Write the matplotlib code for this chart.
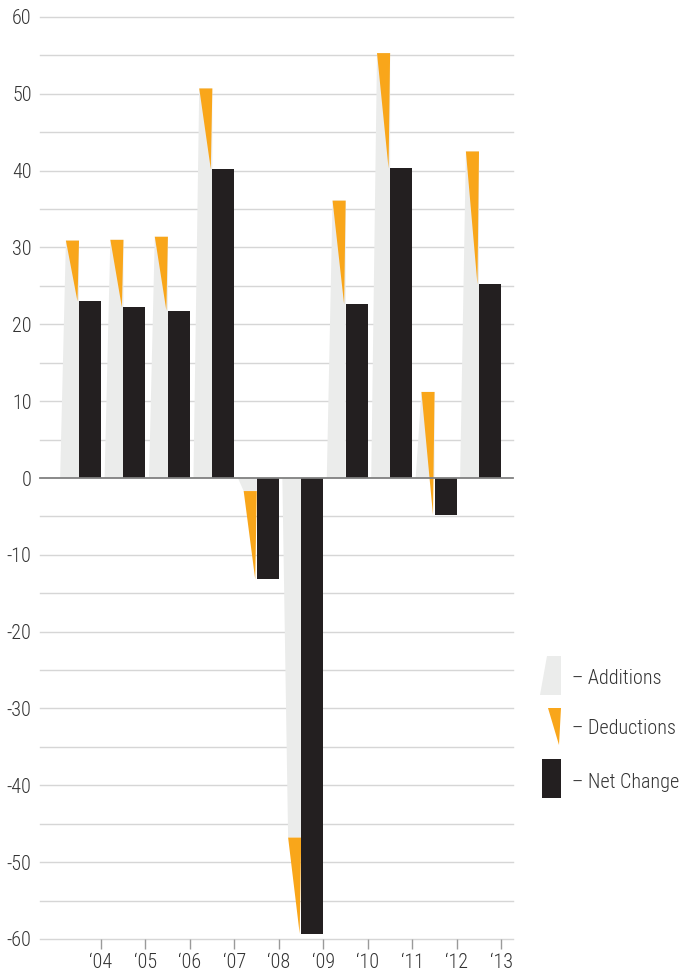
import matplotlib
matplotlib.use("Agg")
import matplotlib.pyplot as plt
from matplotlib.patches import Polygon

years = ["\u201804", "\u201805", "\u201806", "\u201807", "\u201808",
         "\u201809", "\u201810", "\u201811", "\u201812", "\u201813"]
additions = [30.9, 31.0, 31.4, 50.7, -1.7, -46.8, 36.1, 55.3, 11.2, 42.5]
net_change = [23.0, 22.2, 21.8, 40.2, -13.2, -59.3, 22.6, 40.3, -4.8, 25.2]
deductions = [a - n for a, n in zip(additions, net_change)]

GRAY = "#EBECEB"
ORANGE = "#F9A61A"
BLACK = "#231F20"
TEXT = "#333333"
FS = 14.5
WEIGHT = 'light'

plt.rcParams['font.family'] = ['Roboto Condensed', 'Roboto', 'DejaVu Sans']

fig = plt.figure(figsize=(6.82, 9.72), dpi=100)
W, H = 682, 972
ax = fig.add_axes([40 / W, 1 - 939 / H, (513 - 40) / W, (939 - 17) / H])
ax.set_xlim(-1.373, 9.27)
ax.set_ylim(-60, 60)

for v in range(-60, 61, 5):
    if v == 0:
        continue
    ax.axhline(v, color="#d6d6d6", lw=1.0, zorder=0, clip_on=False)
ax.axhline(0, color="#808080", lw=1.3, zorder=5, clip_on=False)

for i, (a, d, n) in enumerate(zip(additions, deductions, net_change)):
    peak = a
    ax.add_patch(Polygon([(i - 0.92, 0), (i - 0.79, peak), (i - 0.495, peak), (i - 0.495, 0)],
                         closed=True, facecolor=GRAY, edgecolor="none", zorder=1))
    ax.add_patch(Polygon([(i - 0.79, peak), (i - 0.495, peak), (i - 0.53, peak - d)],
                         closed=True, facecolor=ORANGE, edgecolor="none", zorder=2))
    ax.bar(i - 0.495, n, width=0.495, align='edge', color=BLACK, zorder=3)

for s in ax.spines.values():
    s.set_visible(False)

ax.set_yticks(range(-60, 61, 10))
ax.set_yticklabels([str(v) for v in range(-60, 61, 10)])
ax.tick_params(axis='y', length=0, pad=6, labelsize=FS, labelcolor=TEXT)
ax.set_xticks(range(len(years)))
ax.set_xticklabels(years)
ax.tick_params(axis='x', length=7.5, width=1, color="#9a9a9a", pad=2.5,
               labelsize=FS, labelcolor=TEXT)
for lbl in ax.get_xticklabels() + ax.get_yticklabels():
    lbl.set_fontweight(WEIGHT)

def fx(px):
    return px / W

def fy(py):
    return 1 - py / H

fig.patches.append(Polygon([(fx(540), fy(695)), (fx(547), fy(656)), (fx(561), fy(656)), (fx(561), fy(695))],
                           closed=True, facecolor=GRAY, edgecolor="none", transform=fig.transFigure))
fig.patches.append(Polygon([(fx(548), fy(708)), (fx(561), fy(708)), (fx(559), fy(745))],
                           closed=True, facecolor=ORANGE, edgecolor="none", transform=fig.transFigure))
fig.patches.append(Polygon([(fx(542), fy(759)), (fx(561), fy(759)), (fx(561), fy(798)), (fx(542), fy(798))],
                           closed=True, facecolor=BLACK, edgecolor="none", transform=fig.transFigure))
for label, py in [("\u2013 Additions", 678), ("\u2013 Deductions", 728), ("\u2013 Net Change", 782)]:
    fig.text(fx(572), fy(py), label, ha='left', va='center', fontsize=FS,
             color=TEXT, fontweight=WEIGHT)

fig.savefig("out.png", dpi=100, facecolor="white")
